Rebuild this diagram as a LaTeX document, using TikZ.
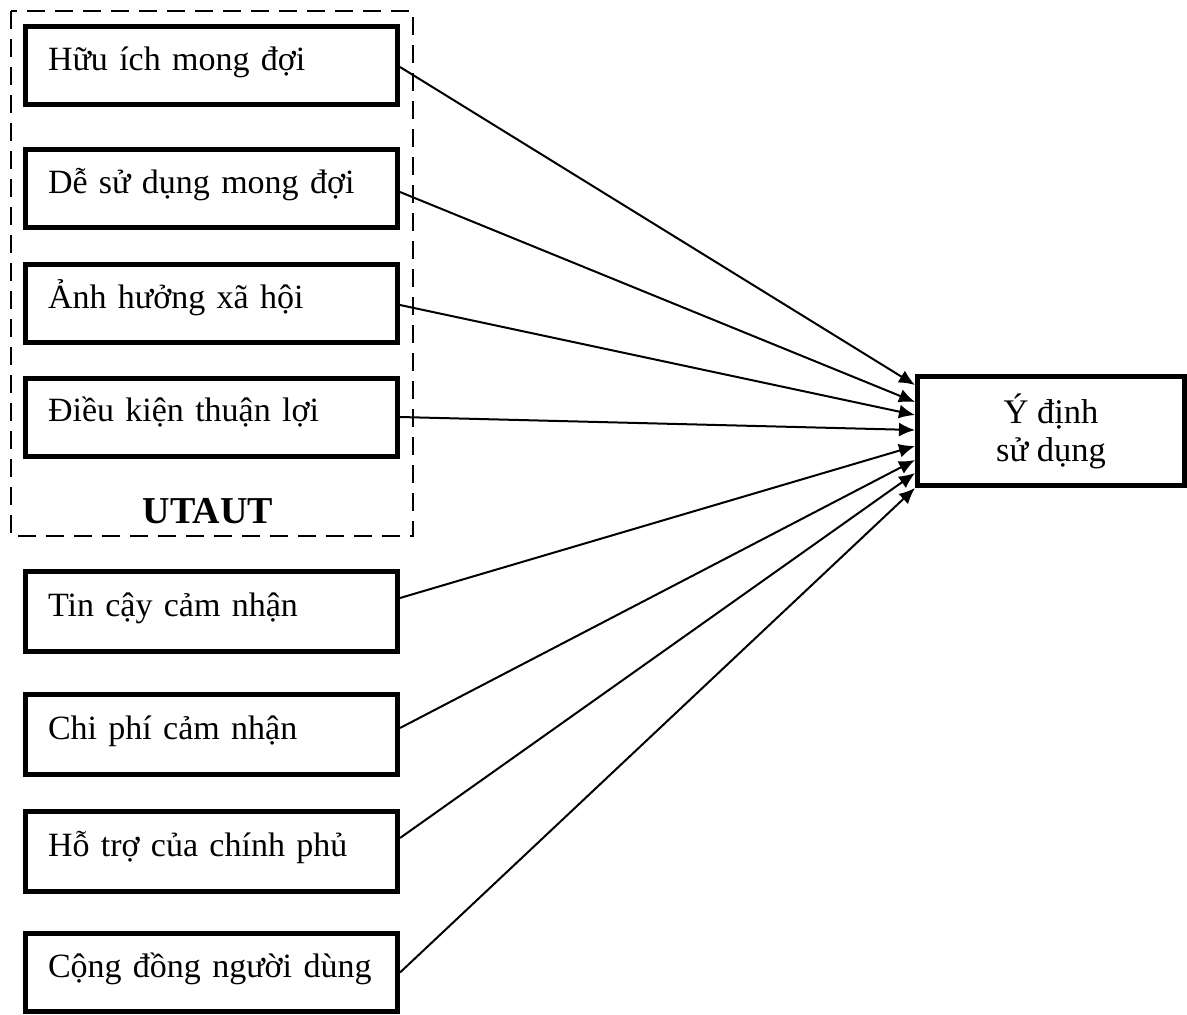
\documentclass[tikz,border=0pt]{standalone}
\usepackage{fontspec}
\setmainfont{Liberation Serif}
\usetikzlibrary{arrows.meta}
\begin{document}
\begin{tikzpicture}[x=1pt,y=-1pt,
  % left-hand factor boxes; one unbroken line, set a little above the middle
  factor/.style={draw, line width=5pt, minimum width=372pt, minimum height=78pt,
    text width=327pt, inner xsep=22.5pt, align=left,
    text height=30pt, text depth=21pt,
    execute at begin node={\leavevmode\hbox\bgroup},
    execute at end node={\egroup},
    font=\fontsize{34}{38}\selectfont},
  outcome/.style={draw, line width=5pt, minimum width=267pt, minimum height=109pt,
    align=center, font=\fontsize{34.5}{38}\selectfont},
  group/.style={line width=2pt, dash pattern=on 18pt off 10pt},
  conn/.style={line width=2pt, -{Latex[length=16pt,width=14pt]}}
]
\useasboundingbox (0,0) rectangle (1187,1015);

% UTAUT group frame
\draw[group] (11,11) rectangle (413,536);
\node[font=\bfseries\fontsize{38}{40}\selectfont, anchor=base] (utaut) at (208,523) {UTAUT};

% factors
\node[factor] (b1) at (211.5,65.5)  {Hữu ích mong đợi};
\node[factor] (b2) at (211.5,188.5) {Dễ sử dụng mong đợi};
\node[factor] (b3) at (211.5,303.5) {Ảnh hưởng xã hội};
\node[factor] (b4) at (211.5,417)   {Điều kiện thuận lợi};
\node[factor, minimum height=80pt] (b5) at (211.5,611.5) {Tin cậy cảm nhận};
\node[factor, minimum height=80pt] (b6) at (211.5,734.5) {Chi phí cảm nhận};
\node[factor, minimum height=80pt] (b7) at (211.5,851.5) {Hỗ trợ của chính phủ};
\node[factor] (b8) at (211.5,972.5) {Cộng đồng người dùng};

% outcome
\node[outcome] (r) at (1051,431) {Ý định\\sử dụng};

% paths
\draw[conn] ([yshift=-1.5pt]b1.east) -- ([yshift=46pt]r.west);
\draw[conn] ([yshift=-3.5pt]b2.east) -- ([yshift=29pt]r.west);
\draw[conn] ([yshift=-1.5pt]b3.east) -- ([yshift=16pt]r.west);
\draw[conn] (b4.east) -- ([yshift=1pt]r.west);
\draw[conn] ([yshift=13.5pt]b5.east) -- ([yshift=-15pt]r.west);
\draw[conn] ([yshift=6.5pt]b6.east) -- ([yshift=-29pt]r.west);
\draw[conn] ([yshift=13.5pt]b7.east) -- ([yshift=-42pt]r.west);
\draw[conn] (b8.east) -- ([yshift=-57pt]r.west);
\end{tikzpicture}
\end{document}
